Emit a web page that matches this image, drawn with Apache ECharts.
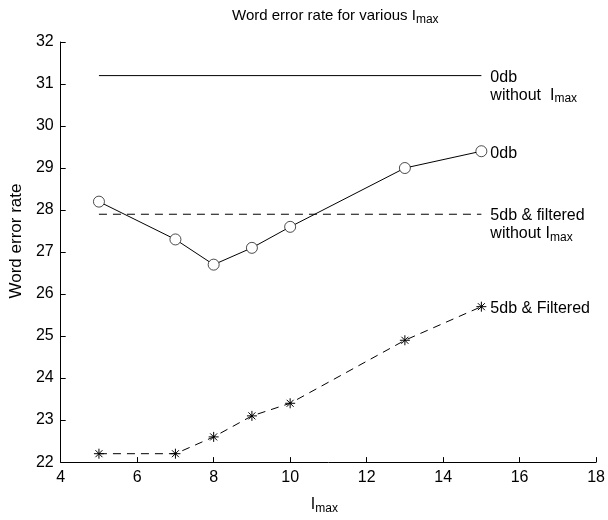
<!DOCTYPE html>
<html>
<head>
<meta charset="utf-8">
<script src="https://cdn.jsdelivr.net/npm/echarts@6/dist/echarts.min.js"></script>
<style>
html,body{margin:0;padding:0;background:#fff;}
#chart{width:608px;height:520px;}
</style>
</head>
<body>
<div id="chart"></div>
<script>
// ---- data ----
const lmaxValues = [5, 7, 8, 9, 10, 13, 15];
const wer0db = [28.2, 27.3, 26.7, 27.1, 27.6, 29.0, 29.4];
const wer5dbFiltered = [22.2, 22.2, 22.6, 23.1, 23.4, 24.9, 25.7];
const baselineRange = [5, 15];
const baseline0db = 31.2;
const baseline5dbFiltered = 27.9;
const xTicks = [4, 6, 8, 10, 12, 14, 16, 18];
const yTicks = [22, 23, 24, 25, 26, 27, 28, 29, 30, 31, 32];

const FONT = 'Liberation Sans, Arial, Helvetica, sans-serif';
const rich = {
  a: {fontFamily: FONT, fontSize: 16, color: '#000', lineHeight: 18, verticalAlign: 'top'},
  t: {fontFamily: FONT, fontSize: 15, color: '#000', lineHeight: 18, verticalAlign: 'top'},
  s: {fontFamily: FONT, fontSize: 12, color: '#000', lineHeight: 12, padding: [13, 0, 0, 0], verticalAlign: 'bottom'}
};

function pairs(xs, ys) { return xs.map((x, i) => [x, ys[i]]); }
function flat(y) { return baselineRange.map(x => [x, y]); }

const asterisk = 'path://M0,5L10,5M5,0L5,10M1.5,1.5L8.5,8.5M8.5,1.5L1.5,8.5';

function endLab(fmt, off) {
  return {show: true, distance: 9, offset: off, formatter: fmt, rich: rich,
          fontFamily: FONT, fontSize: 16, color: '#000'};
}

const chart = echarts.init(document.getElementById('chart'), null, {renderer: 'canvas'});
chart.setOption({
  animation: false,
  backgroundColor: '#fff',
  title: {
    text: '{t|Word error rate for various I}{s|max}',
    left: 227, top: 3,
    textStyle: {rich: rich, fontFamily: FONT, fontSize: 15, fontWeight: 'normal', color: '#000'}
  },
  grid: {left: 53, right: 11, top: 42, bottom: 49},
  xAxis: {
    type: 'value', min: xTicks[0], max: xTicks[xTicks.length - 1], interval: 2,
    name: '{a|I}{s|max}', nameLocation: 'middle', nameGap: 28,
    nameTextStyle: {rich: rich, padding: [0, 8, 0, 0]},
    axisLine: {lineStyle: {color: '#000', width: 1}},
    axisTick: {inside: true, length: 5, lineStyle: {color: '#000'}},
    axisLabel: {color: '#000', fontFamily: FONT, fontSize: 16, margin: 7},
    splitLine: {show: false}
  },
  yAxis: {
    type: 'value', min: yTicks[0], max: yTicks[yTicks.length - 1], interval: 1,
    name: 'Word error rate', nameLocation: 'middle', nameGap: 23,
    nameTextStyle: {color: '#000', fontFamily: FONT, fontSize: 17, padding: [0, 0, 0, 22]},
    axisLine: {show: true, lineStyle: {color: '#000', width: 1}},
    axisTick: {show: true, inside: true, length: 5, lineStyle: {color: '#000'}},
    axisLabel: {color: '#000', fontFamily: FONT, fontSize: 16, margin: 7},
    splitLine: {show: false}
  },
  series: [
    {
      type: 'line', data: flat(baseline0db), symbol: 'none',
      lineStyle: {color: '#000', width: 1},
      endLabel: endLab('{a|0db}\n{a|without  I}{s|max}', [0, 11.5]),
      emphasis: {disabled: true}
    },
    {
      type: 'line', data: pairs(lmaxValues, wer0db), symbol: 'circle', symbolSize: 11,
      showAllSymbol: true,
      lineStyle: {color: '#000', width: 1},
      itemStyle: {color: '#fff', borderColor: '#000', borderWidth: 0.7},
      endLabel: endLab('{a|0db}', [0, 3]),
      emphasis: {disabled: true}
    },
    {
      type: 'line', data: flat(baseline5dbFiltered), symbol: 'none',
      lineStyle: {color: '#000', width: 1, type: [8, 6]},
      endLabel: endLab('{a|5db & filtered}\n{a|without I}{s|max}', [0, 11.5]),
      emphasis: {disabled: true}
    },
    {
      type: 'line', data: pairs(lmaxValues, wer5dbFiltered), symbol: asterisk, symbolSize: 10,
      lineStyle: {color: '#000', width: 1, type: [8, 6]},
      itemStyle: {color: '#000', borderColor: '#000', borderWidth: 1},
      endLabel: endLab('{a|5db & Filtered}', [0, 3]),
      emphasis: {disabled: true}
    }
  ]
});
</script>
</body>
</html>
